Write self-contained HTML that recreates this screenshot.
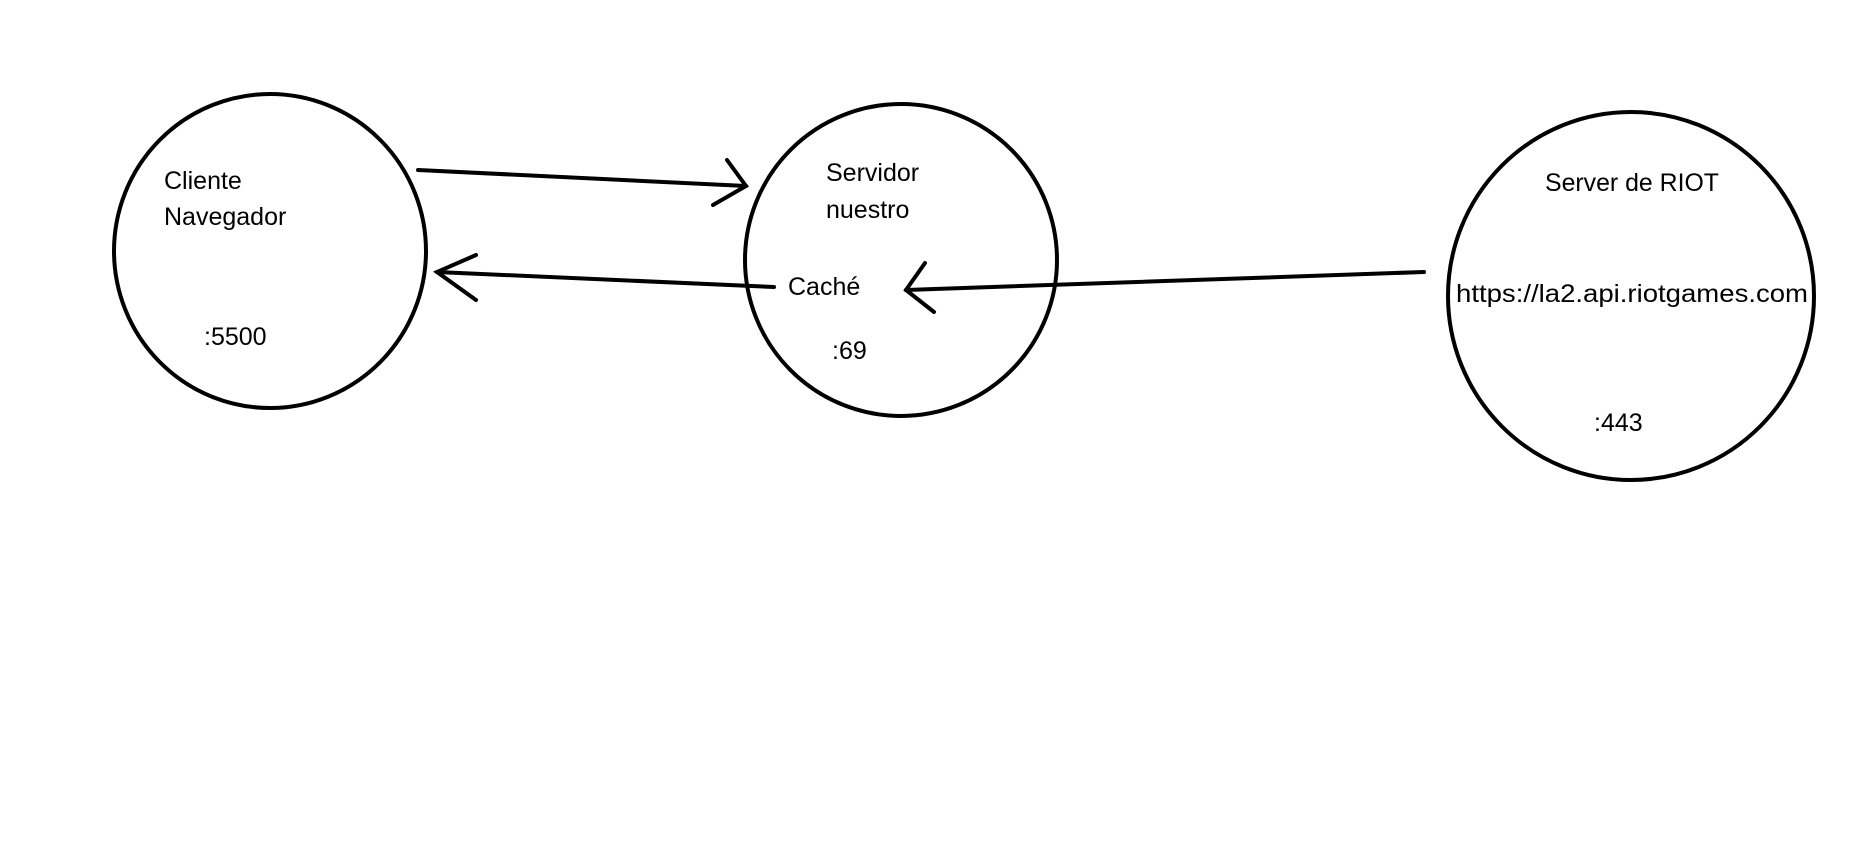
<!DOCTYPE html>
<html><head><style>html,body{margin:0;padding:0;background:#fff;}svg{display:block}</style></head>
<body>
<svg width="1862" height="844" viewBox="0 0 1862 844" xmlns="http://www.w3.org/2000/svg">
<g fill="none" stroke="#000" stroke-width="4" stroke-linecap="round">
<ellipse cx="270" cy="251" rx="156" ry="157"/>
<ellipse cx="901" cy="260" rx="156" ry="156"/>
<ellipse cx="1631" cy="296" rx="183" ry="184"/>
<line x1="418" y1="170" x2="746" y2="186"/>
<polyline points="727,160 746,186 713,205"/>
<line x1="774" y1="287" x2="437" y2="272"/>
<polyline points="476,255 437,272 476,300"/>
<line x1="1424" y1="272" x2="906" y2="290"/>
<polyline points="925,263 906,290 934,312"/>
</g>
<g font-family="Liberation Sans, sans-serif" font-size="25" fill="#000" dominant-baseline="central">
<text x="164" y="181">Cliente</text>
<text x="164" y="217">Navegador</text>
<text x="204" y="337">:5500</text>
<text x="826" y="173">Servidor</text>
<text x="826" y="210">nuestro</text>
<text x="788" y="287">Caché</text>
<text x="832" y="351">:69</text>
<text x="1545" y="183" textLength="174" lengthAdjust="spacingAndGlyphs">Server de RIOT</text>
<text x="1456" y="294" textLength="352" lengthAdjust="spacingAndGlyphs">https://la2.api.riotgames.com</text>
<text x="1594" y="423">:443</text>
</g>
</svg>
</body></html>
